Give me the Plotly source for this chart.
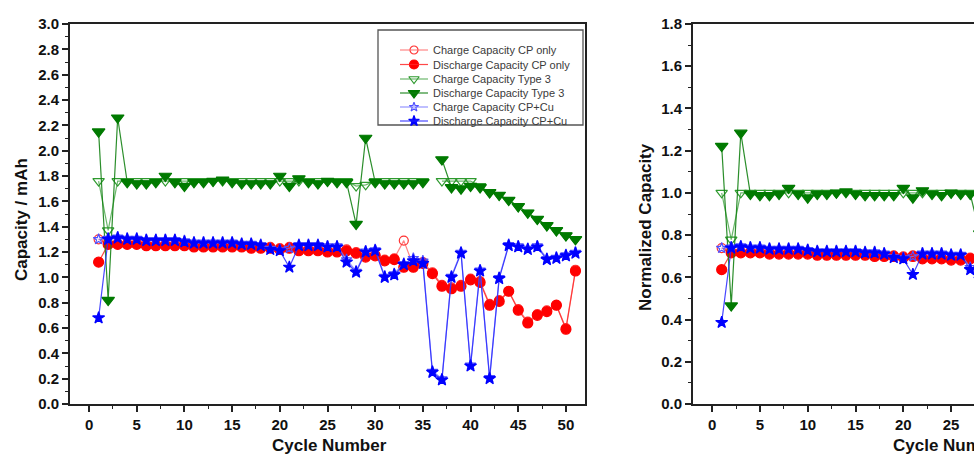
import plotly.graph_objects as go

# Cycle index 1..51
cycles = list(range(1, 52))

# CP only (mAh)
cp_charge = [1.30, 1.27, 1.27, 1.27, 1.27, 1.26, 1.26, 1.26, 1.26, 1.26,
             1.25, 1.25, 1.25, 1.25, 1.25, 1.25, 1.24, 1.24, 1.24, 1.23,
             1.24, 1.22, 1.22, 1.22, 1.21, 1.21, 1.22, 1.20, 1.17, 1.18,
             1.14, 1.15, 1.29, 1.09, 1.12, 1.04, 0.94, 0.92, 0.94, 0.99,
             0.97, 0.79, 0.82, 0.89, 0.75, 0.65, 0.71, 0.74, 0.78, 0.60,
             1.06]
cp_discharge = [1.12, 1.26, 1.26, 1.26, 1.26, 1.25, 1.25, 1.25, 1.25, 1.25,
                1.24, 1.24, 1.24, 1.24, 1.24, 1.24, 1.23, 1.23, 1.23, 1.22,
                1.23, 1.21, 1.21, 1.21, 1.20, 1.20, 1.21, 1.19, 1.16, 1.17,
                1.13, 1.14, 1.08, 1.08, 1.11, 1.03, 0.93, 0.91, 0.93, 0.98,
                0.96, 0.78, 0.81, 0.89, 0.74, 0.64, 0.70, 0.73, 0.78, 0.59,
                1.05]

# Type 3 (mAh); cycle 36 not recorded
t3_charge = [1.76, 1.37, 1.76, 1.76, 1.76, 1.76, 1.76, 1.76, 1.76, 1.76,
             1.76, 1.76, 1.76, 1.76, 1.76, 1.76, 1.76, 1.76, 1.76, 1.76,
             1.76, 1.76, 1.76, 1.76, 1.76, 1.76, 1.76, 1.72, 1.73, 1.76,
             1.76, 1.76, 1.76, 1.76, 1.76, None, 1.76, 1.76, 1.76, 1.76,
             1.72, 1.67, 1.65, 1.61, 1.56, 1.51, 1.46, 1.41, 1.37, 1.33,
             1.30]
t3_discharge = [2.15, 0.82, 2.26, 1.75, 1.74, 1.74, 1.75, 1.80, 1.75, 1.72,
                1.75, 1.75, 1.76, 1.77, 1.75, 1.74, 1.74, 1.74, 1.74, 1.80,
                1.72, 1.78, 1.75, 1.74, 1.76, 1.75, 1.75, 1.42, 2.10, 1.75,
                1.74, 1.74, 1.74, 1.74, 1.75, None, 1.93, 1.71, 1.70, 1.72,
                1.71, 1.67, 1.65, 1.61, 1.56, 1.51, 1.46, 1.41, 1.37, 1.33,
                1.30]

# CP+Cu (mAh)
cu_charge = [1.30, 1.31, 1.32, 1.31, 1.31, 1.30, 1.30, 1.30, 1.30, 1.29,
             1.28, 1.28, 1.28, 1.28, 1.28, 1.27, 1.27, 1.26, 1.23, 1.22,
             1.23, 1.26, 1.26, 1.26, 1.25, 1.25, 1.14, 1.05, 1.21, 1.22,
             1.01, 1.03, 1.11, 1.15, 1.13, 0.26, 0.20, 1.01, 1.20, 0.31,
             1.06, 0.21, 1.00, 1.26, 1.25, 1.23, 1.25, 1.15, 1.16, 1.18,
             1.20]
cu_discharge = [0.68, 1.30, 1.31, 1.30, 1.30, 1.29, 1.29, 1.29, 1.29, 1.28,
                1.27, 1.27, 1.27, 1.27, 1.27, 1.26, 1.26, 1.25, 1.22, 1.21,
                1.08, 1.25, 1.25, 1.25, 1.24, 1.24, 1.12, 1.04, 1.20, 1.21,
                1.00, 1.02, 1.10, 1.13, 1.11, 0.25, 0.19, 1.00, 1.19, 0.30,
                1.05, 0.20, 0.99, 1.25, 1.24, 1.22, 1.24, 1.14, 1.15, 1.17,
                1.19]

# Reference capacity used for normalisation (mAh)
norm_ref = 1.76

series_names = ["Charge Capacity CP only", "Discharge Capacity CP only",
                "Charge Capacity Type 3", "Discharge Capacity Type 3",
                "Charge Capacity CP+Cu", "Discharge Capacity CP+Cu"]
series_values = [cp_charge, cp_discharge, t3_charge, t3_discharge,
                 cu_charge, cu_discharge]

# per-series style: marker colour, line colour, symbol, marker size
styles = [
    ("#ff3030", "rgba(255,110,110,0.85)", "circle-open", 9),
    ("#ff0000", "rgba(255,40,40,0.85)", "circle", 10),
    ("#2e9a2e", "rgba(70,165,70,0.8)", "triangle-down-open", 10),
    ("#007a00", "rgba(20,130,20,0.9)", "triangle-down", 11),
    ("#5050ff", "rgba(120,120,255,0.8)", "star-open", 8),
    ("#0000ff", "rgba(40,40,255,0.85)", "star", 9),
]

W, H = 974, 454
ml, mr, mt, mb = 70, 0, 24, 50
pw = W - ml - mr
ph = H - mt - mb

fig = go.Figure()

for (name, vals), (mcol, lcol, sym, size) in zip(zip(series_names, series_values), styles):
    fig.add_trace(go.Scatter(
        x=cycles, y=vals, name=name, mode="lines+markers",
        line=dict(color=lcol, width=1.2),
        marker=dict(symbol=sym, size=size, color=mcol,
                    line=dict(color=mcol, width=1.2)),
        connectgaps=False, xaxis="x", yaxis="y", showlegend=False,
    ))
    fig.add_trace(go.Scatter(
        x=cycles,
        y=[None if v is None else v / norm_ref for v in vals],
        name=name, mode="lines+markers",
        line=dict(color=lcol, width=1.2),
        marker=dict(symbol=sym, size=size, color=mcol,
                    line=dict(color=mcol, width=1.2)),
        connectgaps=False, xaxis="x2", yaxis="y2", showlegend=False,
    ))

# Legend box drawn on a pixel-based overlay axis
leg_left, leg_right, leg_top, leg_bottom = 378, 583, 30, 125
leg_rows = [50, 64.5, 79, 93, 107, 121]
fig.add_shape(type="rect", xref="x3", yref="y3",
              x0=leg_left, x1=leg_right, y0=leg_top, y1=leg_bottom,
              line=dict(color="#555555", width=1.3), fillcolor="white",
              layer="below")
for row_y, name, (mcol, lcol, sym, size) in zip(leg_rows, series_names, styles):
    fig.add_shape(type="line", xref="x3", yref="y3",
                  x0=400, x1=428, y0=row_y, y1=row_y,
                  line=dict(color=lcol, width=1.2))
    fig.add_trace(go.Scatter(
        x=[414], y=[row_y], mode="markers", xaxis="x3", yaxis="y3",
        marker=dict(symbol=sym, size=size - 1, color=mcol,
                    line=dict(color=mcol, width=1.2)),
        showlegend=False, hoverinfo="skip", cliponaxis=False,
    ))
    fig.add_annotation(text=name, xref="x3", yref="y3", x=431, y=row_y,
                       xanchor="left", yanchor="middle", showarrow=False,
                       font=dict(family="Liberation Sans, Arial, sans-serif",
                                 size=11, color="#3a3a3a"))

axis_col = "#222222"
tick_font = dict(family="Liberation Sans, Arial, sans-serif", size=15,
                 color="#111111", weight="bold")
title_font = dict(family="Liberation Sans, Arial, sans-serif", size=17,
                  color="#111111", weight="bold")

common_x = dict(
    dtick=5, tick0=0, ticks="outside", ticklen=6, tickwidth=1.5,
    tickcolor=axis_col, showline=True, linecolor=axis_col, linewidth=2,
    showgrid=False, zeroline=False, tickfont=tick_font,
    minor=dict(dtick=2.5, ticks="outside", ticklen=3, tickcolor=axis_col,
               tickwidth=1.2),
)
common_y = dict(
    ticks="outside", ticklen=6, tickwidth=1.5, tickcolor=axis_col,
    showline=True, linecolor=axis_col, linewidth=2, showgrid=False,
    zeroline=False, tickfont=tick_font, tickformat=".1f",
)

fig.update_layout(
    width=W, height=H,
    margin=dict(l=ml, r=mr, t=mt, b=mb),
    paper_bgcolor="white", plot_bgcolor="rgba(0,0,0,0)",
    showlegend=False,
    xaxis=dict(domain=[0, 515 / pw], range=[-2, 52], mirror=True,
               anchor="y", **common_x),
    yaxis=dict(domain=[0, 1], range=[0, 3.0], dtick=0.2, mirror=True,
               anchor="x",
               minor=dict(dtick=0.1, ticks="outside", ticklen=3,
                          tickcolor=axis_col, tickwidth=1.2),
               **common_y),
    xaxis2=dict(domain=[(693 - ml) / pw, 1], range=[-2, -2 + 281 / 9.56],
                mirror=True, anchor="y2", **common_x),
    yaxis2=dict(domain=[0, 1], range=[0, 1.8], dtick=0.2, mirror=False,
                anchor="x2",
                minor=dict(dtick=0.1, ticks="outside", ticklen=3,
                           tickcolor=axis_col, tickwidth=1.2),
                **common_y),
    xaxis3=dict(domain=[0, 1], range=[ml, W], visible=False, anchor="y3",
                fixedrange=True),
    yaxis3=dict(domain=[0, 1], range=[H - mb, mt], visible=False,
                anchor="x3", fixedrange=True),
)

fig.add_annotation(text="Capacity / mAh", xref="paper", yref="paper",
                   x=(21 - ml) / pw, y=(404 - 220) / ph, textangle=-90,
                   showarrow=False, font=title_font,
                   xanchor="center", yanchor="middle")
fig.add_annotation(text="Cycle Number", xref="paper", yref="paper",
                   x=(329 - ml) / pw, y=-(446 - 404) / ph,
                   showarrow=False, font=title_font,
                   xanchor="center", yanchor="middle")
fig.add_annotation(text="Normalized Capacity", xref="paper", yref="paper",
                   x=(645 - ml) / pw, y=(404 - 227) / ph, textangle=-90,
                   showarrow=False, font=title_font,
                   xanchor="center", yanchor="middle")
fig.add_annotation(text="Cycle Number", xref="paper", yref="paper",
                   x=(950 - ml) / pw, y=-(446 - 404) / ph,
                   showarrow=False, font=title_font,
                   xanchor="center", yanchor="middle")

fig.write_html("out.html")
